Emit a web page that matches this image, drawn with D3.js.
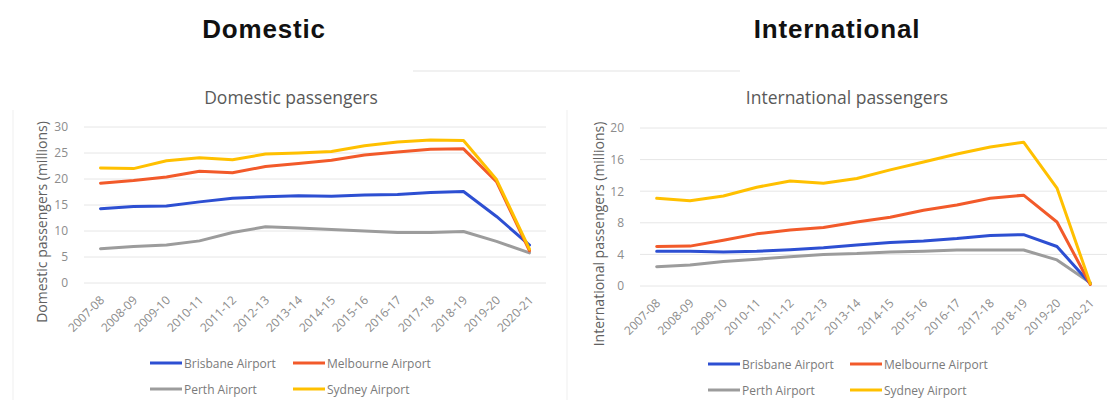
<!DOCTYPE html>
<html>
<head>
<meta charset="utf-8">
<script src="https://cdn.jsdelivr.net/npm/d3@7/dist/d3.min.js"></script>
<style>
  html, body { margin: 0; padding: 0; background: #fff; }
  svg { display: block; }
</style>
</head>
<body>
<svg id="chart" width="1111" height="400"></svg>
<script>
// Financial years shown on both charts
const years = ["2007-08", "2008-09", "2009-10", "2010-11", "2011-12", "2012-13", "2013-14",
               "2014-15", "2015-16", "2016-17", "2017-18", "2018-19", "2019-20", "2020-21"];

// Domestic passengers (millions)
const domBrisbane  = [14.3, 14.7, 14.8, 15.6, 16.3, 16.6, 16.8, 16.7, 16.9, 17.0, 17.4, 17.6, 12.8, 7.3];
const domMelbourne = [19.2, 19.7, 20.4, 21.5, 21.2, 22.4, 23.0, 23.6, 24.6, 25.2, 25.7, 25.8, 19.5, 6.2];
const domPerth     = [6.6, 7.0, 7.3, 8.1, 9.7, 10.8, 10.6, 10.3, 10.0, 9.7, 9.7, 9.9, 8.0, 5.8];
const domSydney    = [22.1, 22.0, 23.5, 24.1, 23.7, 24.8, 25.0, 25.3, 26.4, 27.1, 27.5, 27.4, 19.9, 6.5];

// International passengers (millions)
const intBrisbane  = [4.4, 4.4, 4.3, 4.4, 4.6, 4.85, 5.2, 5.5, 5.7, 6.0, 6.4, 6.5, 5.0, 0.3];
const intMelbourne = [5.0, 5.05, 5.8, 6.6, 7.1, 7.4, 8.1, 8.7, 9.6, 10.25, 11.1, 11.5, 8.1, 0.2];
const intPerth     = [2.45, 2.65, 3.1, 3.4, 3.7, 4.0, 4.1, 4.3, 4.4, 4.55, 4.55, 4.55, 3.3, 0.4];
const intSydney    = [11.1, 10.8, 11.4, 12.5, 13.3, 13.0, 13.6, 14.7, 15.7, 16.7, 17.6, 18.2, 12.4, 0.3];

// Axis ticks
const domTicks = [0, 5, 10, 15, 20, 25, 30];
const intTicks = [0, 4, 8, 12, 16, 20];

const airports = ["Brisbane Airport", "Melbourne Airport", "Perth Airport", "Sydney Airport"];
const colors = {
  "Brisbane Airport": "#2D4FD2",
  "Melbourne Airport": "#F25A2A",
  "Perth Airport": "#9C9C9C",
  "Sydney Airport": "#FFC000"
};

const svg = d3.select("#chart");
const bodyFont = "'Open Sans', 'Noto Sans', sans-serif";

// faint panel frames and a rule between the headings
svg.append("line").attr("x1", 13).attr("x2", 13).attr("y1", 110).attr("y2", 400)
  .attr("stroke", "#efefef").attr("stroke-width", 1);
svg.append("line").attr("x1", 567).attr("x2", 567).attr("y1", 110).attr("y2", 400)
  .attr("stroke", "#efefef").attr("stroke-width", 1);
svg.append("line").attr("x1", 413).attr("x2", 740).attr("y1", 71).attr("y2", 71)
  .attr("stroke", "#ececec").attr("stroke-width", 1.5);

function drawPanel(p) {
  const g = svg.append("g");

  // Section heading
  g.append("text")
    .attr("x", p.headX).attr("y", 38)
    .attr("text-anchor", "middle")
    .attr("font-family", "'Liberation Sans', Arial, sans-serif")
    .attr("font-weight", "bold")
    .attr("font-size", 26)
    .attr("letter-spacing", 0.8)
    .attr("fill", "#111")
    .text(p.heading);

  // Chart title
  g.append("text")
    .attr("x", p.titleX).attr("y", 104)
    .attr("text-anchor", "middle")
    .attr("font-family", bodyFont)
    .attr("font-size", 17.5)
    .attr("fill", "#595959")
    .text(p.title);

  const x = d3.scalePoint().domain(years).range([p.x0, p.x1]).padding(0.5);
  const y = d3.scaleLinear().domain([0, p.max]).range([p.yBottom, p.yTop]);

  // Horizontal gridlines
  g.append("g").selectAll("line").data(p.ticks).join("line")
    .attr("x1", p.x0).attr("x2", p.x1)
    .attr("y1", d => y(d)).attr("y2", d => y(d))
    .attr("stroke", "#e6e6e6").attr("stroke-width", 1);

  // Y axis labels
  const yAxis = d3.axisLeft(y).tickValues(p.ticks).tickSize(0).tickPadding(16);
  const ya = g.append("g").attr("transform", `translate(${p.x0},0)`).call(yAxis);
  ya.select(".domain").remove();
  ya.selectAll("text")
    .attr("font-family", bodyFont).attr("font-size", 12).attr("fill", "#8c8c8c");

  // X axis labels, rotated
  const xAxis = d3.axisBottom(x).tickSize(0).tickPadding(0);
  const xa = g.append("g").attr("transform", `translate(0,${p.yBottom})`).call(xAxis);
  xa.select(".domain").remove();
  xa.selectAll("text")
    .attr("font-family", bodyFont).attr("font-size", 12).attr("fill", "#8c8c8c")
    .attr("text-anchor", "end")
    .attr("dy", 0)
    .attr("transform", "translate(4,18) rotate(-45)");

  // Y axis title
  g.append("text")
    .attr("transform", `translate(${p.axisTitleX},${p.axisTitleY}) rotate(-90)`)
    .attr("text-anchor", "middle")
    .attr("font-family", bodyFont)
    .attr("font-size", 14)
    .attr("fill", "#606060")
    .text(p.axisTitle);

  // Series lines
  const line = d3.line()
    .x((d, i) => x(years[i]))
    .y(d => y(d));
  const series = [
    { name: "Perth Airport", values: p.data["Perth Airport"] },
    { name: "Brisbane Airport", values: p.data["Brisbane Airport"] },
    { name: "Melbourne Airport", values: p.data["Melbourne Airport"] },
    { name: "Sydney Airport", values: p.data["Sydney Airport"] }
  ];
  g.append("g").selectAll("path").data(series).join("path")
    .attr("d", d => line(d.values))
    .attr("fill", "none")
    .attr("stroke", d => colors[d.name])
    .attr("stroke-width", 3)
    .attr("stroke-linejoin", "round")
    .attr("stroke-linecap", "round");

  // Legend: two rows of two entries
  const lg = g.append("g");
  airports.forEach((name, i) => {
    const col = i % 2, row = Math.floor(i / 2);
    const lx = p.legX + col * p.legColW;
    const ly = p.legY + row * 26;
    lg.append("line")
      .attr("x1", lx).attr("x2", lx + 32)
      .attr("y1", ly).attr("y2", ly)
      .attr("stroke", colors[name]).attr("stroke-width", 3);
    lg.append("text")
      .attr("x", lx + 34).attr("y", ly + 4.5)
      .attr("font-family", bodyFont).attr("font-size", 12)
      .attr("fill", "#7a7a7a")
      .text(name);
  });
}

drawPanel({
  heading: "Domestic", headX: 264,
  title: "Domestic passengers", titleX: 291,
  axisTitle: "Domestic passengers  (millions)", axisTitleX: 47, axisTitleY: 222,
  x0: 84, x1: 546, yTop: 127, yBottom: 283, max: 30, ticks: domTicks,
  legX: 150, legColW: 143, legY: 363,
  data: {
    "Brisbane Airport": domBrisbane, "Melbourne Airport": domMelbourne,
    "Perth Airport": domPerth, "Sydney Airport": domSydney
  }
});

drawPanel({
  heading: "International", headX: 837,
  title: "International passengers", titleX: 847,
  axisTitle: "International passengers (millions)", axisTitleX: 604, axisTitleY: 234,
  x0: 640, x1: 1107, yTop: 128, yBottom: 286, max: 20, ticks: intTicks,
  legX: 708, legColW: 142, legY: 364,
  data: {
    "Brisbane Airport": intBrisbane, "Melbourne Airport": intMelbourne,
    "Perth Airport": intPerth, "Sydney Airport": intSydney
  }
});
</script>
</body>
</html>
